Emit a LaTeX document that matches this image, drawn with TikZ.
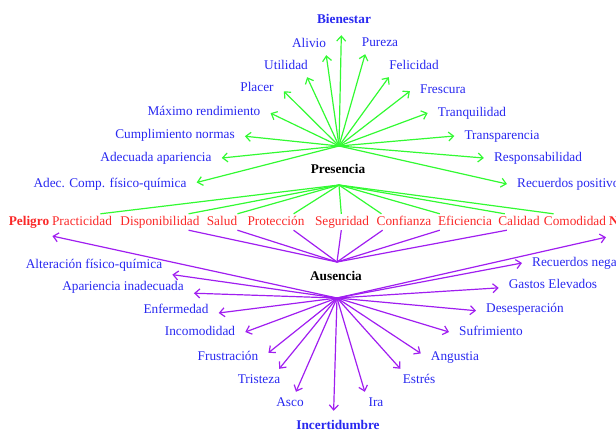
\documentclass[tikz,border=0pt]{standalone}
\usepackage{fontspec}
\setmainfont{Liberation Serif}
\usetikzlibrary{arrows.meta}
\definecolor{presgreen}{RGB}{50,250,50}
\definecolor{auspurple}{RGB}{160,30,240}
\definecolor{txtblue}{RGB}{40,40,240}
\definecolor{txtred}{RGB}{250,40,40}

\begin{document}
\begin{tikzpicture}[
          x=1pt, y=-1pt,
          every node/.style={font=\fontsize{13.3}{16}\selectfont, text height=9pt, text depth=3pt},
          effect/.style={text=txtblue, inner xsep=10pt, inner ysep=5pt},
          outcome/.style={font=\fontsize{13.3}{16}\selectfont\bfseries, inner xsep=3pt, inner ysep=9pt},
          quality/.style={text=txtred, inner sep=2pt},
          hubname/.style={font=\fontsize{13.3}{16}\selectfont\bfseries},
          presarrow/.style={->, draw=presgreen, line width=1.2pt},
          presline/.style={draw=presgreen, line width=1.2pt},
          ausarrow/.style={->, draw=auspurple, line width=1.2pt},
          ausline/.style={draw=auspurple, line width=1.2pt},
          >={Straight Barb[length=5pt,width=9pt]}
        ]
        \useasboundingbox (0,0) rectangle (616,432);
        \clip (0,0) rectangle (616,432);

        % hubs
        \coordinate (ptop) at (339,146);
        \coordinate (pbot) at (339,185);
        \coordinate (atop) at (337,262);
        \coordinate (abot) at (337,298);
        \node [hubname] (presencia) at (338,170) {Presencia};
        \node [hubname] (ausencia) at (336,277) {Ausencia};

        % outcomes
        \node [outcome, text=txtblue] (bienestar) at (344,20) {Bienestar};
        \node [outcome, text=txtblue] (incert) at (338,426) {Incertidumbre};
        \node [outcome, text=txtred] (peligro) at (29,222) {Peligro};
        \node [outcome, text=txtred, anchor=west] (necesidad) at (606,222) {Necesidad};

        % qualities
        \node [quality] (practicidad) at (82,222) {Practicidad};
        \node [quality] (disponib) at (160,222) {Disponibilidad};
        \node [quality] (salud) at (222,222) {Salud};
        \node [quality] (proteccion) at (276,222) {Protección};
        \node [quality] (seguridad) at (342,222) {Seguridad};
        \node [quality] (confianza) at (404,222) {Confianza};
        \node [quality] (eficiencia) at (465,222) {Eficiencia};
        \node [quality] (calidad) at (519,222) {Calidad};
        \node [quality] (comodidad) at (575,222) {Comodidad};

        % presencia effects
        \node [effect] (alivio) at (309,44) {Alivio};
        \node [effect] (pureza) at (380,43) {Pureza};
        \node [effect] (utilidad) at (286,66) {Utilidad};
        \node [effect] (felicidad) at (414,66) {Felicidad};
        \node [effect] (placer) at (257,88) {Placer};
        \node [effect] (frescura) at (443,90) {Frescura};
        \node [effect] (maximo) at (204,112) {Máximo rendimiento};
        \node [effect] (tranq) at (472,113) {Tranquilidad};
        \node [effect] (cumplim) at (175,135) {Cumplimiento normas};
        \node [effect] (transp) at (502,136) {Transparencia};
        \node [effect] (adecap) at (156,158) {Adecuada apariencia};
        \node [effect] (respons) at (538,158) {Responsabilidad};
        \node [effect] (adeccomp) at (110,184) {Adec. Comp. físico-química};
        \node [effect, anchor=west] (recpos) at (507,184) {Recuerdos positivos};

        % ausencia effects
        \node [effect] (altfq) at (94,265) {Alteración físico-química};
        \node [effect, anchor=west] (recneg) at (522,263) {Recuerdos negativos};
        \node [effect] (apinad) at (123,287) {Apariencia inadecuada};
        \node [effect] (gastos) at (553,285) {Gastos Elevados};
        \node [effect] (enferm) at (176,310) {Enfermedad};
        \node [effect] (desesp) at (525,309) {Desesperación};
        \node [effect] (incomod) at (200,332) {Incomodidad};
        \node [effect] (sufrim) at (491,332) {Sufrimiento};
        \node [effect] (frustr) at (228,357) {Frustración};
        \node [effect] (angustia) at (455,357) {Angustia};
        \node [effect] (tristeza) at (259,380) {Tristeza};
        \node [effect] (estres) at (419,380) {Estrés};
        \node [effect] (asco) at (290,403) {Asco};
        \node [effect] (ira) at (376,403) {Ira};

        % presencia arrows
        \draw [presarrow] (ptop) -- (bienestar.-100);
        \draw [presarrow] (ptop) -- (alivio.-33);
        \draw [presarrow] (ptop) -- (pureza.217);
        \draw [presarrow] (ptop) -- (utilidad.-28);
        \draw [presarrow] (ptop) -- (felicidad.204);
        \draw [presarrow] (ptop) -- (placer.-7);
        \draw [presarrow] (ptop) -- (frescura.182);
        \draw [presarrow] (ptop) -- (maximo.-1);
        \draw [presarrow] (ptop) -- (tranq.180);
        \draw [presarrow] (ptop) -- (cumplim.-1);
        \draw [presarrow] (ptop) -- (transp.180);
        \draw [presarrow] (ptop) -- (adecap.0);
        \draw [presarrow] (ptop) -- (respons.180);
        \draw [presarrow] (ptop) -- (adeccomp.1);
        \draw [presarrow] (ptop) -- (recpos.west);

        % qualities to presencia
        \draw [presline] (pbot) -- (practicidad.24);
        \draw [presline] (pbot) -- (disponib.16);
        \draw [presline] (pbot) -- (salud.28);
        \draw [presline] (pbot) -- (proteccion.25);
        \draw [presline] (pbot) -- (seguridad.95);
        \draw [presline] (pbot) -- (confianza.160);
        \draw [presline] (pbot) -- (eficiencia.162);
        \draw [presline] (pbot) -- (calidad.150);
        \draw [presline] (pbot) -- (comodidad.159);

        % qualities to ausencia
        \draw [ausline] (disponib.-16) -- (atop);
        \draw [ausline] (salud.-28) -- (atop);
        \draw [ausline] (proteccion.-25) -- (atop);
        \draw [ausline] (seguridad.-95) -- (atop);
        \draw [ausline] (confianza.201) -- (atop);
        \draw [ausline] (eficiencia.198) -- (atop);
        \draw [ausline] (calidad.214) -- (atop);

        % ausencia arrows
        \draw [ausarrow] (abot) -- (peligro.-31);
        \draw [ausarrow] (abot) -- (necesidad.south west);
        \draw [ausarrow] (abot) -- (altfq.-7);
        \draw [ausarrow] (abot) -- (recneg.west);
        \draw [ausarrow] (abot) -- (apinad.-5);
        \draw [ausarrow] (abot) -- (gastos.183);
        \draw [ausarrow] (abot) -- (enferm.-4);
        \draw [ausarrow] (abot) -- (desesp.182);
        \draw [ausarrow] (abot) -- (incomod.0);
        \draw [ausarrow] (abot) -- (sufrim.180);
        \draw [ausarrow] (abot) -- (frustr.6);
        \draw [ausarrow] (abot) -- (angustia.174);
        \draw [ausarrow] (abot) -- (tristeza.29);
        \draw [ausarrow] (abot) -- (estres.149);
        \draw [ausarrow] (abot) -- (asco.62);
        \draw [ausarrow] (abot) -- (ira.135);
        \draw [ausarrow] (abot) -- (incert.106);
        \end{tikzpicture}
\end{document}
